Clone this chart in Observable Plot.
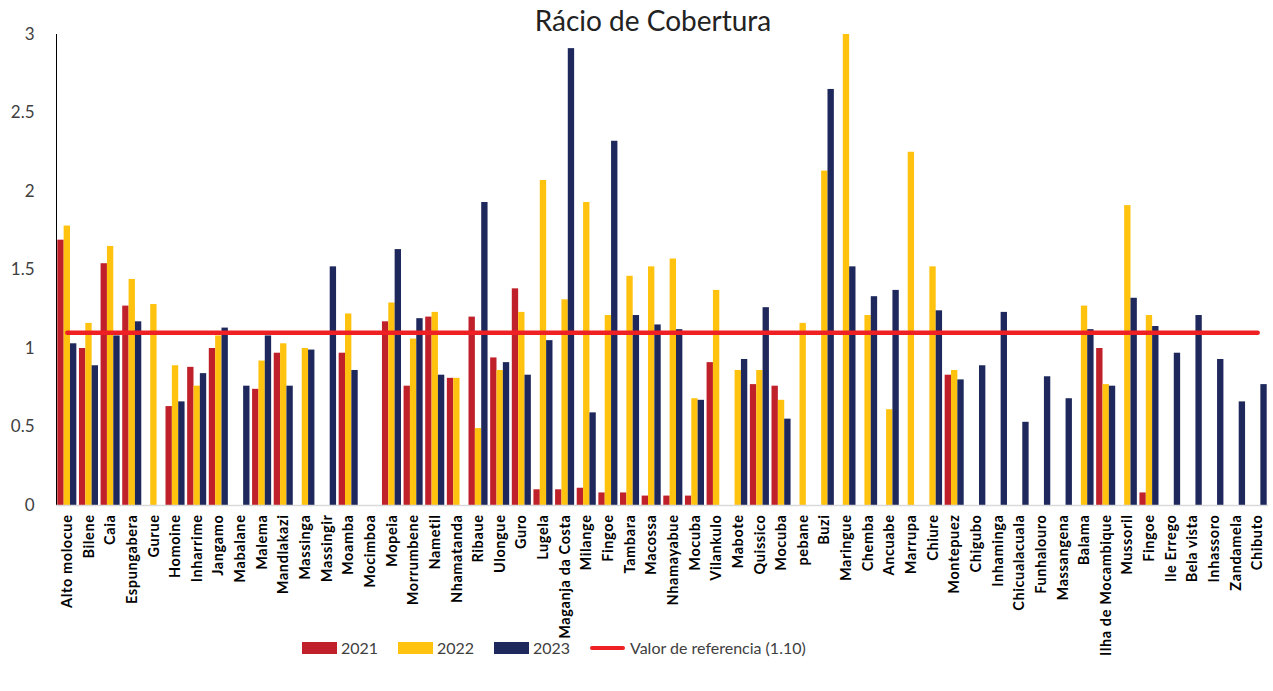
<!DOCTYPE html>
<html>
<head>
<meta charset="utf-8">
<script src="https://cdn.jsdelivr.net/npm/d3@7"></script>
<script src="https://cdn.jsdelivr.net/npm/@observablehq/plot@0.6"></script>
<style>
  html, body { margin: 0; padding: 0; background: #fff; }
  #wrap { position: relative; width: 1273px; height: 691px; font-family: Lato, "Open Sans", sans-serif; }
  #title { position: absolute; top: 3px; left: 0; width: 1306px; text-align: center; font-size: 28px; color: #222; }
  #chart { position: absolute; top: 0; left: 0; }
  #chart svg { overflow: visible; }
  g[aria-label^="x-axis"] text { font-weight: bold; font-size: 14.5px; letter-spacing: 0.6px; fill: #000; }
  g[aria-label^="y-axis"] text { font-size: 17px; fill: #404040; }
  .leg { position: absolute; top: 638px; font-size: 16px; color: #404040; display: flex; align-items: center; white-space: nowrap; }
  .sw { width: 35px; height: 12px; margin-right: 4px; }
  .ln { width: 35px; height: 4px; border-radius: 2px; margin-right: 5px; }
</style>
</head>
<body>
<div id="wrap">
  <div id="chart"></div>
  <div id="title">Rácio de Cobertura</div>
  <div id="legend"></div>
</div>
<script>
const categories = ["Alto molocue","Bilene","Caia","Espungabera","Gurue","Homoine","Inharrime","Jangamo","Mabalane","Malema","Mandlakazi","Massinga","Massingir","Moamba","Mocimboa","Mopeia","Morrumbene","Nametil","Nhamatanda","Ribaue","Ulongue","Guro","Lugela","Maganja da Costa","Milange","Fingoe","Tambara","Macossa","Nhamayabue","Mocuba","Vilankulo","Mabote","Quissico","Mocuba","pebane","Buzi","Maringue","Chemba","Ancuabe","Marrupa","Chiure","Montepuez","Chigubo","Inhaminga","Chicualacuala","Funhalouro","Massangena","Balama","Ilha de Mocambique","Mussoril","Fingoe","Ile Errego","Bela vista","Inhassoro","Zandamela","Chibuto"];

const v2021 = [1.69,1.00,1.54,1.27,null,0.63,0.88,1.00,null,0.74,0.97,null,null,0.97,null,1.17,0.76,1.20,0.81,1.20,0.94,1.38,0.10,0.10,0.11,0.08,0.08,0.06,0.06,0.06,0.91,null,0.77,0.76,null,null,null,null,null,null,null,0.83,null,null,null,null,null,null,1.00,null,0.08,null,null,null,null,null];
const v2022 = [1.78,1.16,1.65,1.44,1.28,0.89,0.76,1.08,null,0.92,1.03,1.00,null,1.22,null,1.29,1.06,1.23,0.81,0.49,0.86,1.23,2.07,1.31,1.93,1.21,1.46,1.52,1.57,0.68,1.37,0.86,0.86,0.67,1.16,2.13,3.00,1.21,0.61,2.25,1.52,0.86,null,null,null,null,null,1.27,0.77,1.91,1.21,null,null,null,null,null];
const v2023 = [1.03,0.89,1.08,1.17,null,0.66,0.84,1.13,0.76,1.08,0.76,0.99,1.52,0.86,null,1.63,1.19,0.83,null,1.93,0.91,0.83,1.05,2.91,0.59,2.32,1.21,1.15,1.12,0.67,null,0.93,1.26,0.55,null,2.65,1.52,1.33,1.37,null,1.24,0.80,0.89,1.23,0.53,0.82,0.68,1.12,0.76,1.32,1.14,0.97,1.21,0.93,0.66,0.77];

const years = ["2021","2022","2023"];
const seriesColors = ["#C0202A","#FFC20E","#1F285C"];
const referenceValue = 1.10;
const referenceLabel = "Valor de referencia (1.10)";
const yTicks = [0,0.5,1,1.5,2,2.5,3];

const series = [v2021, v2022, v2023];
const n = categories.length;
const W = 1273, H = 691, mL = 56, mR = 5, mT = 34, mB = 186;

// band geometry from the same band settings used by Plot
const band = d3.scaleBand().domain(d3.range(n)).range([mL, W - mR]).paddingInner(0.12).paddingOuter(0.06);
const third = band.bandwidth() / 3;

const barMarks = series.map((vals, k) => {
  const rows = vals.map((v, i) => ({i, v})).filter(d => d.v != null);
  return Plot.barY(rows, {
    x: "i", y: "v", fill: seriesColors[k],
    insetLeft: third * k, insetRight: third * (2 - k)
  });
});

const refRows = d3.range(n).map(i => ({i, v: referenceValue}));

const chart = Plot.plot({
  width: W, height: H,
  marginLeft: mL, marginRight: mR, marginTop: mT, marginBottom: mB,
  style: {background: "transparent", fontFamily: "Lato, 'Open Sans', sans-serif"},
  x: {type: "band", domain: d3.range(n), paddingInner: 0.12, paddingOuter: 0.06,
      tickFormat: i => categories[i], tickRotate: -90, tickSize: 0, tickPadding: 9, label: null},
  y: {domain: [0, 3], ticks: yTicks, tickFormat: d => String(d), tickSize: 0, tickPadding: 22, line: true, label: null},
  marks: [
    ...barMarks,
    Plot.ruleY([0], {stroke: "#d9d9d9", strokeWidth: 1.5}),
    Plot.line(refRows, {x: "i", y: "v", stroke: "#EE2024", strokeWidth: 4.5, strokeLinecap: "round"})
  ]
});
document.getElementById("chart").appendChild(chart);

// legend
const legend = document.getElementById("legend");
const legendLefts = [302, 398, 494];
years.forEach((y, k) => {
  const d = document.createElement("div");
  d.className = "leg";
  d.style.left = legendLefts[k] + "px";
  d.innerHTML = `<span class="sw" style="background:${seriesColors[k]}"></span>${y}`;
  legend.appendChild(d);
});
const r = document.createElement("div");
r.className = "leg";
r.style.left = "590px";
r.innerHTML = `<span class="ln" style="background:#EE2024"></span>${referenceLabel}`;
legend.appendChild(r);
</script>
</body>
</html>
